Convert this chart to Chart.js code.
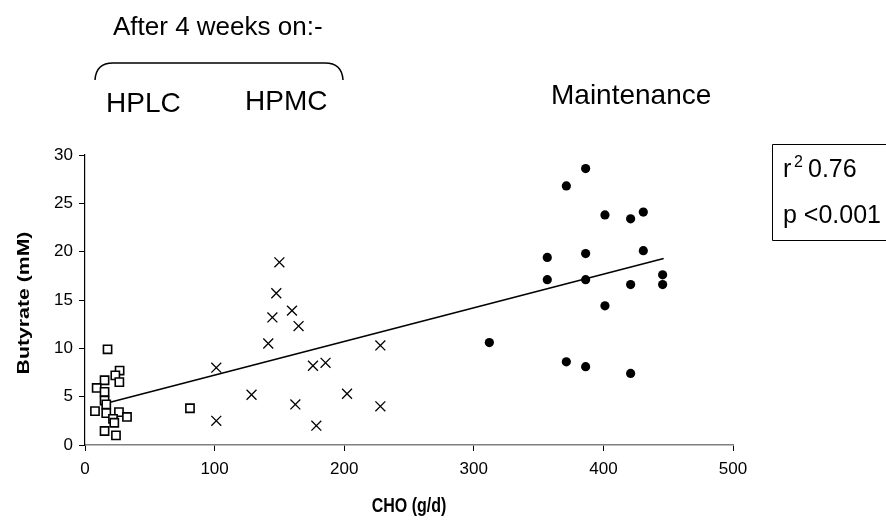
<!DOCTYPE html>
<html>
<head>
<meta charset="utf-8">
<script src="https://cdn.jsdelivr.net/npm/chart.js@4"></script>
<style>
  html, body { margin: 0; padding: 0; background: #fff; }
  #wrap { width: 886px; height: 521px; }
</style>
</head>
<body>
<div id="wrap"><canvas id="chart" width="886" height="521"></canvas></div>
<script>
// HPLC (squares)
const hplcX = [17.4, 26.7, 23.4, 26.5, 15.1, 9.0, 15.1, 15.1, 16.4, 7.7, 16.4, 26.2, 32.4, 21.6, 22.6, 15.1, 23.9, 81.0];
const hplcY = [9.9, 7.7, 7.2, 6.5, 6.7, 5.9, 5.5, 4.6, 4.2, 3.5, 3.3, 3.4, 2.9, 2.7, 2.3, 1.45, 1.0, 3.8];

// HPMC (crosses)
const hpmcX = [150.0, 147.6, 159.7, 144.6, 164.8, 141.4, 101.3, 175.9, 185.6, 128.5, 162.3, 101.3, 178.5, 227.9, 202.2, 227.9];
const hpmcY = [18.9, 15.7, 13.9, 13.2, 12.3, 10.5, 8.0, 8.2, 8.5, 5.2, 4.2, 2.5, 2.0, 10.3, 5.3, 4.0];

// Maintenance (dots)
const maintX = [386.3, 371.4, 401.2, 421.0, 430.8, 356.7, 386.3, 430.8, 356.7, 386.3, 445.7, 445.7, 421.0, 401.2, 312.0, 371.4, 386.3, 421.0];
const maintY = [28.6, 26.8, 23.8, 23.4, 24.1, 19.4, 19.8, 20.1, 17.1, 17.1, 17.6, 16.6, 16.6, 14.4, 10.6, 8.6, 8.1, 7.4];

// regression line end points
const fitX = [15.7, 446.5];
const fitY = [4.3, 19.3];

const xTicks = [0, 100, 200, 300, 400, 500];
const yTicks = [0, 5, 10, 15, 20, 25, 30];

const FONT = "'Liberation Sans', Arial, sans-serif";

function pts(xs, ys) {
    return xs.map((x, i) => ({ x: x, y: ys[i] }));
}

// axis titles, text, brace and stats box drawn on top
const notes = {
    id: 'notes',
    afterDraw(chart) {
        const c = chart.ctx;
        const a = chart.chartArea;
        c.save();
        c.fillStyle = '#000';
        c.strokeStyle = '#000';
        c.textBaseline = 'alphabetic';
        c.textAlign = 'left';

        c.font = '26px ' + FONT;
        c.fillText('After 4 weeks on:-', 113, 35);

        // brace
        c.lineWidth = 1.5;
        c.beginPath();
        c.moveTo(95, 80);
        c.quadraticCurveTo(96, 63, 113, 63);
        c.lineTo(325, 63);
        c.quadraticCurveTo(342, 63, 343, 80);
        c.stroke();

        c.font = '28px ' + FONT;
        c.fillText('HPLC', 106, 112);
        c.fillText('HPMC', 245, 110);
        c.fillText('Maintenance', 551, 104);

        // stats box
        c.lineWidth = 1;
        c.beginPath();
        c.moveTo(890, 144.5);
        c.lineTo(772.5, 144.5);
        c.lineTo(772.5, 240.5);
        c.lineTo(890, 240.5);
        c.stroke();
        c.font = '25px ' + FONT;
        c.fillText('r', 783, 177);
        c.font = '16px ' + FONT;
        c.fillText('2', 794, 167);
        c.font = '25px ' + FONT;
        c.fillText('0.76', 808, 177);
        c.fillText('p <0.001', 783, 223);

        // axis titles (slightly stretched, like the original)
        c.textAlign = 'center';
        c.textBaseline = 'middle';
        c.font = 'bold 16px ' + FONT;
        c.save();
        c.translate((a.left + a.right) / 2, 506);
        c.scale(1, 1.25);
        c.fillText('CHO (g/d)', 0, 0);
        c.restore();

        c.save();
        c.translate(24, 303);
        c.rotate(-Math.PI / 2);
        c.scale(1.25, 1);
        c.font = 'bold 17px ' + FONT;
        c.fillText('Butyrate (mM)', 0, 0);
        c.restore();
        c.restore();
    }
};

new Chart(document.getElementById('chart'), {
    type: 'scatter',
    data: {
        datasets: [
            {
                label: 'HPLC',
                data: pts(hplcX, hplcY),
                pointStyle: 'rect',
                pointRadius: 5.8,
                backgroundColor: '#fff',
                borderColor: '#000',
                borderWidth: 1.6
            },
            {
                label: 'HPMC',
                data: pts(hpmcX, hpmcY),
                pointStyle: 'crossRot',
                pointRadius: 7,
                borderColor: '#000',
                borderWidth: 1.3
            },
            {
                label: 'Maintenance',
                data: pts(maintX, maintY),
                pointStyle: 'circle',
                pointRadius: 4.6,
                backgroundColor: '#000',
                borderColor: '#000',
                borderWidth: 0
            },
            {
                type: 'line',
                label: 'fit',
                data: pts(fitX, fitY),
                borderColor: '#000',
                borderWidth: 1.6,
                pointRadius: 0,
                fill: false
            }
        ]
    },
    options: {
        responsive: false,
        animation: false,
        events: [],
        layout: { padding: { top: 155, right: 153, left: 0, bottom: 0 } },
        plugins: {
            legend: { display: false },
            tooltip: { enabled: false }
        },
        scales: {
            x: {
                type: 'linear',
                min: 0,
                max: 500,
                afterBuildTicks: s => { s.ticks = xTicks.map(v => ({ value: v })); },
                afterFit: s => { s.height = 76; },
                grid: { drawOnChartArea: false, drawTicks: true, tickLength: 6, color: '#000', lineWidth: 1 },
                border: { display: true, color: '#808080', width: 1.5 },
                ticks: { color: '#000', padding: 8, font: { family: FONT, size: 17 } },
                title: { display: false }
            },
            y: {
                type: 'linear',
                min: 0,
                max: 30,
                afterBuildTicks: s => { s.ticks = yTicks.map(v => ({ value: v })); },
                afterFit: s => { s.width = 85; },
                grid: { drawOnChartArea: false, drawTicks: true, tickLength: 6, color: '#000', lineWidth: 1 },
                border: { display: true, color: '#000', width: 1.2 },
                ticks: { color: '#000', padding: 6, font: { family: FONT, size: 17 } },
                title: { display: false }
            }
        }
    },
    plugins: [notes]
});
</script>
</body>
</html>
